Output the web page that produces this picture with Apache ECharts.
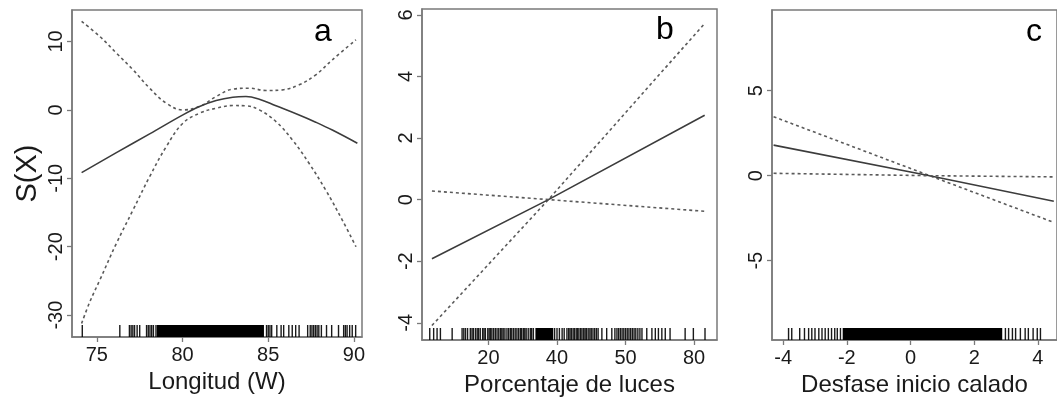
<!DOCTYPE html>
<html>
<head>
<meta charset="utf-8">
<script src="https://cdn.jsdelivr.net/npm/echarts@6/dist/echarts.min.js"></script>
<style>html,body{margin:0;padding:0;background:#fff}#c{width:1057px;height:404px}</style>
</head>
<body>
<div id="c"></div>
<script>
// ---------- Panel a: Longitud (W) ----------
const aUpperX = [74.11, 75.17, 76.14, 77.11, 78.08, 79.05, 80.02, 80.99, 81.96, 82.93, 83.9, 84.87, 85.83, 86.8, 87.77, 88.74, 90.12];
const aUpperY = [12.93, 10.74, 8.3, 5.86, 3.17, 0.98, 0.0, 0.49, 1.95, 3.03, 3.17, 2.83, 2.93, 3.66, 5.12, 7.32, 10.25];
const aFitX = [74.11, 76.14, 78.08, 80.02, 80.99, 81.96, 82.93, 83.7, 84.48, 85.45, 86.8, 87.77, 88.74, 90.2];
const aFitY = [-9.18, -6.25, -3.51, -0.73, 0.49, 1.37, 1.85, 1.95, 1.56, 0.6, -0.75, -1.8, -2.95, -4.88];
const aLowerX = [74.11, 74.59, 75.17, 76.14, 77.11, 78.08, 79.05, 80.02, 80.99, 81.96, 82.93, 83.7, 84.48, 85.45, 86.41, 87.38, 88.35, 89.32, 90.12];
const aLowerY = [-31.23, -28.06, -24.89, -19.52, -14.64, -9.76, -5.37, -1.95, -0.49, 0.24, 0.63, 0.59, 0.0, -1.71, -4.39, -7.81, -11.71, -16.1, -20.01];
const aRugTicks = [74.15, 76.34, 76.9, 77.0, 77.1, 77.2, 77.35, 77.5, 77.9, 78.0, 78.1, 78.2, 78.3, 78.45, 84.9, 85.0, 85.1, 85.2, 85.5, 85.75, 85.9, 86.2, 86.4, 86.6, 86.8, 87.3, 87.45, 87.55, 87.65, 87.75, 87.85, 87.95, 88.1, 88.4, 88.7, 89.1, 89.4, 89.5, 89.6, 89.75, 89.9, 90.1];
const aRugBands = [[78.5, 84.75]];
const aXTicks = [75, 80, 85, 90];
const aYTicks = [-30, -20, -10, 0, 10];

// ---------- Panel b: Porcentaje de luces ----------
const bX = [3.5, 37.5, 83.1];
const bFit = [-1.92, 0, 2.74];
const bSteep = [-4.09, 0, 5.72];
const bFlat = [0.28, 0, -0.38];
const bRugTicks = [2.86, 4.0, 5.0, 5.97, 9.4, 12.3, 12.8, 13.3, 13.9, 14.7, 15.2, 15.6, 16.2, 16.7, 17.1, 17.6, 18.3, 18.7, 19.1, 19.8, 20.2, 20.6, 21.0, 21.5, 22.0, 22.5, 23.0, 23.5, 23.9, 24.3, 24.8, 25.4, 25.9, 26.4, 26.8, 27.3, 27.8, 28.3, 28.8, 29.3, 29.7, 30.2, 30.6, 31.0, 31.6, 32.2, 32.6, 33.1, 39.3, 40.0, 40.7, 41.5, 42.1, 42.9, 43.4, 43.8, 44.2, 44.7, 45.1, 45.6, 46.0, 46.4, 46.9, 47.3, 47.8, 48.2, 48.6, 49.1, 49.6, 50.0, 50.5, 51.0, 51.5, 52.0, 53.1, 54.5, 56.0, 56.9, 57.5, 58.0, 58.5, 59.0, 59.5, 60.0, 60.5, 61.0, 61.5, 62.0, 62.5, 63.0, 63.6, 64.2, 64.8, 66.2, 67.7, 68.7, 69.6, 70.6, 71.6, 73.0, 77.4, 79.8, 83.2];
const bRugBands = [[33.7, 38.9]];
const bXTicks = [20, 40, 60, 80];
const bXLabels = ['20', '40', '50', '80'];
const bYTicks = [-4, -2, 0, 2, 4, 6];

// ---------- Panel c: Desfase inicio calado ----------
const cX = [-4.3, 0.6, 4.5];
const cFit = [1.8, 0, -1.5];
const cSteep = [3.47, 0, -2.75];
const cFlat = [0.14, 0, -0.07];
const cRugTicks = [-3.83, -3.73, -3.48, -3.33, -3.2, -3.1, -3.0, -2.88, -2.78, -2.68, -2.58, -2.48, -2.38, -2.3, -2.2, 2.98, 3.08, 3.2, 3.3, 3.45, 3.6, 3.7, 3.85, 3.98, 4.08];
const cRugBands = [[-2.13, 2.88]];
const cXTicks = [-4, -2, 0, 2, 4];
const cYTicks = [-5, 0, 5];

const FONT = '"Liberation Sans", Arial, Helvetica, sans-serif';
const TXT = '#1a1a1a';
const FRAME = '#7a7a7a';

function zip(xs, ys) { return xs.map((x, i) => [x, ys[i]]); }

function xAxis(idx, min, max, ticks, name, labels) {
  return {
    type: 'value', gridIndex: idx, min: min, max: max, position: 'bottom',
    axisLine: { show: true, onZero: false, lineStyle: { color: FRAME, width: 1.5 } },
    splitLine: { show: false },
    axisTick: { show: true, length: 5, customValues: ticks, lineStyle: { color: FRAME, width: 1.3 } },
    axisLabel: {
      customValues: ticks, fontSize: 20, color: TXT, fontFamily: FONT, margin: 8,
      formatter: labels ? (v) => labels[ticks.indexOf(v)] : (v) => String(v)
    },
    name: name, nameLocation: 'middle', nameGap: 31,
    nameTextStyle: { fontSize: 24, color: TXT, fontFamily: FONT }
  };
}
function yAxis(idx, min, max, ticks, name) {
  const o = {
    type: 'value', gridIndex: idx, min: min, max: max, position: 'left',
    axisLine: { show: true, onZero: false, lineStyle: { color: FRAME, width: 1.5 } },
    splitLine: { show: false },
    axisTick: { show: true, length: 5, customValues: ticks, lineStyle: { color: FRAME, width: 1.3 } },
    axisLabel: { customValues: ticks, rotate: 90, fontSize: 20, color: TXT, fontFamily: FONT, margin: 6 }
  };
  if (name) {
    o.name = name; o.nameLocation = 'middle'; o.nameRotate = 90; o.nameGap = 30;
    o.nameTextStyle = { fontSize: 29, color: TXT, fontFamily: FONT };
  }
  return o;
}
function line(idx, data, dashed, smooth) {
  return {
    type: 'line', xAxisIndex: idx, yAxisIndex: idx, data: data, smooth: smooth ? 0.4 : false,
    symbol: 'none', silent: true, z: 3,
    lineStyle: dashed
      ? { color: '#5a5a5a', width: 1.6, type: [3, 3] }
      : { color: '#3c3c3c', width: 1.6 }
  };
}
function rugTicks(idx, vals) {
  return {
    type: 'custom', xAxisIndex: idx, yAxisIndex: idx, silent: true, clip: true, z: 2,
    data: vals.map(v => [v]),
    renderItem: function (params, api) {
      const cs = params.coordSys;
      const x = api.coord([api.value(0), 0])[0];
      const b = cs.y + cs.height;
      return { type: 'line', shape: { x1: x, y1: b, x2: x, y2: b - 12 }, style: { stroke: '#000', lineWidth: 1.4, opacity: 0.9 } };
    }
  };
}
function rugBands(idx, bands) {
  return {
    type: 'custom', xAxisIndex: idx, yAxisIndex: idx, silent: true, clip: true, z: 2,
    data: bands,
    renderItem: function (params, api) {
      const cs = params.coordSys;
      const x0 = api.coord([api.value(0), 0])[0];
      const x1 = api.coord([api.value(1), 0])[0];
      const b = cs.y + cs.height;
      return { type: 'rect', shape: { x: x0, y: b - 12, width: x1 - x0, height: 12 }, style: { fill: '#000' } };
    }
  };
}

const grid = (left, top, width, height) => ({ left, top, width, height, show: true, borderColor: FRAME, borderWidth: 1.5, backgroundColor: 'transparent' });

const option = {
  animation: false,
  backgroundColor: '#fff',
  grid: [grid(72, 10, 290, 327), grid(422, 9, 295, 331), grid(772, 10, 300, 330)],
  xAxis: [
    xAxis(0, 73.55, 90.47, aXTicks, 'Longitud (W)'),
    xAxis(1, 0.6, 86.7, bXTicks, 'Porcentaje de luces', bXLabels),
    xAxis(2, -4.35, 4.6, cXTicks, 'Desfase inicio calado')
  ],
  yAxis: [
    yAxis(0, -33.2, 14.6, aYTicks, 'S(X)'),
    yAxis(1, -4.56, 6.19, bYTicks),
    yAxis(2, -9.67, 9.75, cYTicks)
  ],
  graphic: [
    { type: 'text', left: 314, top: 16, style: { text: 'a', fontSize: 32, fill: '#000', fontFamily: FONT } },
    { type: 'text', left: 656, top: 14, style: { text: 'b', fontSize: 32, fill: '#000', fontFamily: FONT } },
    { type: 'text', left: 1026, top: 16, style: { text: 'c', fontSize: 32, fill: '#000', fontFamily: FONT } }
  ],
  series: [
    line(0, zip(aUpperX, aUpperY), true, true),
    line(0, zip(aFitX, aFitY), false, true),
    line(0, zip(aLowerX, aLowerY), true, true),
    rugTicks(0, aRugTicks), rugBands(0, aRugBands),
    line(1, zip(bX, bSteep), true, false),
    line(1, zip(bX, bFit), false, false),
    line(1, zip(bX, bFlat), true, false),
    rugTicks(1, bRugTicks), rugBands(1, bRugBands),
    line(2, zip(cX, cSteep), true, false),
    line(2, zip(cX, cFit), false, false),
    line(2, zip(cX, cFlat), true, false),
    rugTicks(2, cRugTicks), rugBands(2, cRugBands)
  ]
};
const chart = echarts.init(document.getElementById('c'), null, { renderer: 'canvas' });
chart.setOption(option);
</script>
</body>
</html>
